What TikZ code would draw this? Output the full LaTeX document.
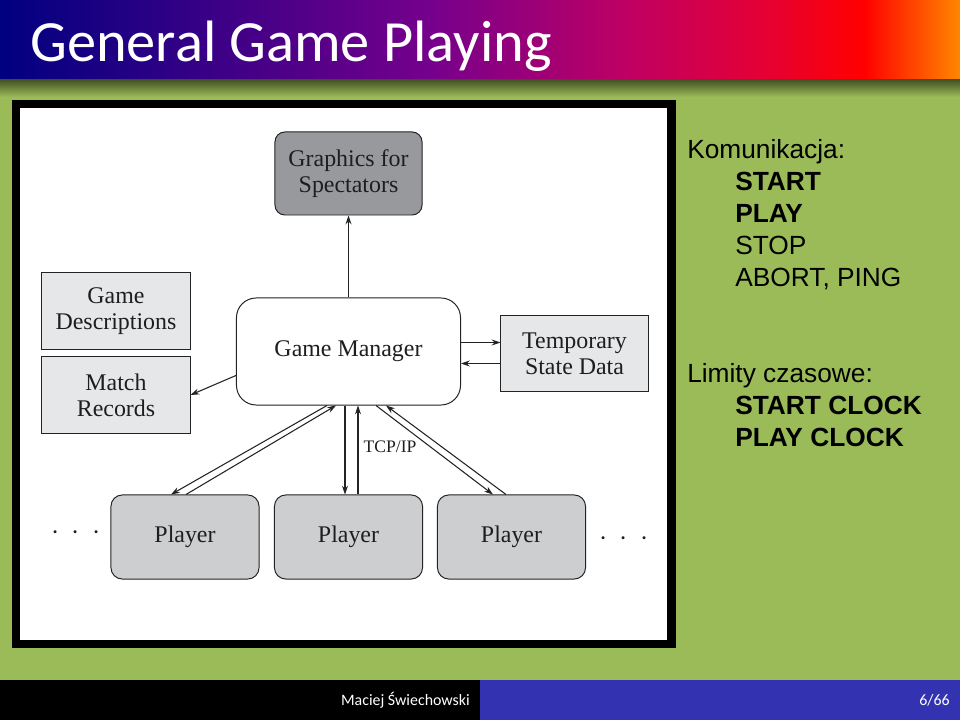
\documentclass[tikz,border=0pt]{standalone}
\usepackage{fontspec}
\setmainfont{Liberation Serif}
\newfontfamily\slidefont{Carlito}
\newfontfamily\notefont{Liberation Sans}
\usetikzlibrary{arrows.meta}
\usetikzlibrary{calc}

\definecolor{bggreen}{RGB}{155,187,89}
\definecolor{shadowgreen}{RGB}{70,84,38}
\definecolor{footblue}{RGB}{51,51,178}
\definecolor{tnavy}{RGB}{0,0,128}
\definecolor{tpurple}{RGB}{118,0,140}
\definecolor{tmagenta}{RGB}{190,0,100}
\definecolor{tcrimson}{RGB}{230,0,50}
\definecolor{tred}{RGB}{255,0,0}
\definecolor{torange}{RGB}{255,135,0}
\definecolor{edgegray}{RGB}{35,35,38}
\definecolor{inkgray}{RGB}{30,30,32}
\definecolor{boxlight}{RGB}{230,231,233}
\definecolor{boxmid}{RGB}{205,206,208}
\definecolor{boxdark}{RGB}{152,153,156}

\pgfdeclarehorizontalshading{titlebar}{100bp}{color(0bp)=(tnavy); color(25bp)=(tnavy); color(47.5bp)=(tpurple); color(57.5bp)=(tmagenta); color(65bp)=(tcrimson); color(70bp)=(tred); color(75bp)=(torange); color(100bp)=(torange)}

\begin{document}
\begin{tikzpicture}[x=0.025cm, y=-0.025cm]
  \tikzstyle{plain} = [draw=edgegray, line width=0.7pt, inner sep=0pt, align=center, text=inkgray, font=\fontsize{17}{18.5}\selectfont]
  \tikzstyle{lightbox} = [plain, fill=boxlight, minimum width=3.7cm, minimum height=1.9cm]
  \tikzstyle{playerbox} = [plain, fill=boxmid, rounded corners=8pt, minimum width=3.7cm, minimum height=2.1cm]
  \tikzstyle{arr} = [line width=0.75pt, draw=edgegray, -{Stealth[length=2.2mm, width=1.5mm]}]
  \tikzstyle{note} = [anchor=base west, inner sep=0pt, font=\notefont\fontsize{18.7}{22}\selectfont]
  \tikzstyle{cmd} = [note, font=\notefont\bfseries\fontsize{18.7}{22}\selectfont]
  \useasboundingbox (0,0) rectangle (960,720);
  % slide
  \fill[bggreen] (0,0) rectangle (960,720);
  \shade[shading=titlebar] (0,0) rectangle (960,80);
  \shade[top color=shadowgreen, bottom color=bggreen] (0,80) rectangle (960,97);
  \node[anchor=base west, inner sep=0pt, text=white, font=\slidefont\fontsize{41.5}{48}\selectfont] (title) at (30,62) {General Game Playing};
  \fill[black] (0,680) rectangle (480,720);
  \fill[footblue] (480,680) rectangle (960,720);
  \node[anchor=east, inner sep=0pt, text=white, font=\slidefont\fontsize{11.3}{12}\selectfont] (author) at (470,700) {Maciej Świechowski};
  \node[anchor=east, inner sep=0pt, text=white, font=\slidefont\fontsize{11.3}{12}\selectfont] (page) at (950,700) {6/66};
  % figure
  \fill[black] (12,100) rectangle (676,648);
  \fill[white] (20,108) rectangle (667,640);
  \node[plain, fill=boxdark, rounded corners=7pt, minimum width=3.675cm, minimum height=2.075cm] (gfx) at (348.5,173.5) {Graphics for\\Spectators};
  \node[lightbox] (desc) at (116,311) {Game\\Descriptions};
  \node[lightbox] (rec) at (116,395) {Match\\Records};
  \node[plain, fill=white, rounded corners=14pt, minimum width=5.6cm, minimum height=2.675cm] (gm) at (348.5,351.5) {Game Manager};
  \node[lightbox, minimum width=3.675cm, minimum height=1.875cm] (tsd) at (574.5,353.5) {Temporary\\State Data};
  \node[playerbox] (p1) at (185,537) {Player};
  \node[playerbox] (p2) at (348.5,537) {Player};
  \node[playerbox] (p3) at (511.5,537) {Player};
  \node[text=inkgray, font=\fontsize{20}{20}\selectfont] (ldots) at (76,533) {$\cdot\hspace{4.5pt}\cdot\hspace{4.5pt}\cdot$};
  \node[text=inkgray, font=\fontsize{20}{20}\selectfont] (rdots) at (624,539) {$\cdot\hspace{4.5pt}\cdot\hspace{4.5pt}\cdot$};
  \draw[arr] (gm) -- (gfx);
  \draw[arr] ($(gm.west)+(0,24)$) -- (rec.east);
  \path ($(tsd.west)+(0,-11)$) coordinate (tin) ($(tsd.west)+(0,10)$) coordinate (tout);
  \draw[arr] (gm.east |- tin) -- (tin);
  \draw[arr] (tout) -- (gm.east |- tout);
  \draw[arr] ($(gm.south)+(-21.5,0)$) -- ($(p1.north)+(-14,0)$);
  \draw[arr] ($(p1.north)+(1,0)$) -- ($(gm.south)+(-12.5,0)$);
  \draw[arr] ($(gm.south)+(-3.5,0)$) -- ($(p2.north)+(-3.5,0)$);
  \draw[arr] ($(p2.north)+(9.5,0)$) -- ($(gm.south)+(9.5,0)$);
  \draw[arr] ($(gm.south)+(27.5,0)$) -- ($(p3.north)+(-18.5,0)$);
  \draw[arr] ($(p3.north)+(-5.5,0)$) -- ($(gm.south)+(37.5,0)$);
  \node[text=inkgray, font=\fontsize{12.5}{12.5}\selectfont] (tcp) at (390,447) {TCP/IP};
  % notes
  \node[note] (kom) at (687,159) {Komunikacja:};
  \node[cmd] (start) at (735,191) {START};
  \node[cmd] (play) at (735,223) {PLAY};
  \node[note] (stop) at (735,255) {STOP};
  \node[note] (abort) at (735,287) {ABORT, PING};
  \node[note] (lim) at (687,383) {Limity czasowe:};
  \node[cmd] (sclock) at (735,415) {START CLOCK};
  \node[cmd] (pclock) at (735,447) {PLAY CLOCK};
\end{tikzpicture}
\end{document}
